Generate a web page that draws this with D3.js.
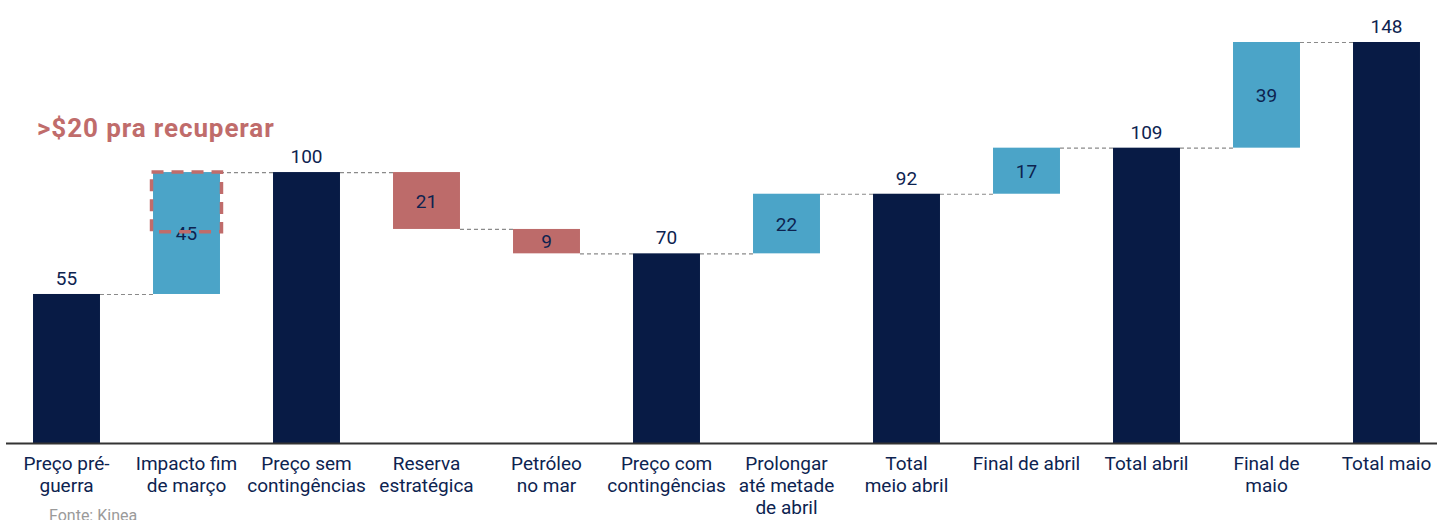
<!DOCTYPE html>
<html>
<head>
<meta charset="utf-8">
<script src="https://cdn.jsdelivr.net/npm/d3@7"></script>
<style>
  body { margin: 0; background: #fff; }
  svg { display: block; font-family: Roboto, "Open Sans", sans-serif; }
</style>
</head>
<body>
<div class="viz"></div>
<script>
// Categories (line breaks as in the original labels)
const categories = [
  "Preço pré-\nguerra",
  "Impacto fim\nde março",
  "Preço sem\ncontingências",
  "Reserva\nestratégica",
  "Petróleo\nno mar",
  "Preço com\ncontingências",
  "Prolongar\naté metade\nde abril",
  "Total\nmeio abril",
  "Final de abril",
  "Total abril",
  "Final de\nmaio",
  "Total maio",
];
const values = [55, 45, 100, -21, -9, 70, 22, 92, 17, 109, 39, 148];
const isTotal = [true, false, true, false, false, true, false, true, false, true, false, true];
// dashed highlight box on "Impacto fim de março": from 100 down to ~78
const highlightRange = [78, 100];

const colors = {
  total: "#081b45",
  up: "#4ba4c8",
  down: "#bd6b6a",
  text: "#0d2350",
  accent: "#c06c6b",
};

const totalWidth = 1437;
const totalHeight = 520;

const svg = d3
  .select(".viz")
  .append("svg")
  .attr("width", totalWidth)
  .attr("height", totalHeight);

// build waterfall steps
let running = 0;
const bars = values.map((v, i) => {
  let start, end;
  if (isTotal[i]) {
    start = 0;
    end = v;
  } else {
    start = running;
    end = running + v;
  }
  running = end;
  return { name: categories[i], value: v, total: isTotal[i], start, end };
});

// Scales
const x = d3
  .scaleBand()
  .domain(categories)
  .range([6.5, 1446.5])
  .paddingInner(0.442)
  .paddingOuter(0.221);

const y = d3.scaleLinear().domain([0, 148]).range([443, 42]);

// Connectors
svg
  .selectAll(".connector")
  .data(bars.slice(0, -1))
  .enter()
  .append("line")
  .attr("x1", (d) => x(d.name) + x.bandwidth())
  .attr("x2", (d, i) => x(categories[i + 1]))
  .attr("y1", (d) => y(d.end) + 0.5)
  .attr("y2", (d) => y(d.end) + 0.5)
  .attr("stroke", "#8a8a8a")
  .attr("stroke-width", 1.2)
  .attr("stroke-dasharray", "4,3");

// Bars
svg
  .selectAll(".bar")
  .data(bars)
  .enter()
  .append("rect")
  .attr("x", (d) => x(d.name))
  .attr("width", x.bandwidth())
  .attr("y", (d) => y(Math.max(d.start, d.end)))
  .attr("height", (d) => Math.abs(y(d.start) - y(d.end)))
  .attr("fill", (d) => (d.total ? colors.total : d.value > 0 ? colors.up : colors.down));

// Value labels
svg
  .selectAll(".value")
  .data(bars)
  .enter()
  .append("text")
  .attr("x", (d) => x(d.name) + x.bandwidth() / 2)
  .attr("y", (d) =>
    d.total ? y(d.end) - 9 : (y(d.start) + y(d.end)) / 2 + 7
  )
  .attr("text-anchor", "middle")
  .attr("fill", colors.text)
  .style("font-size", "19px")
  .text((d) => Math.abs(d.value));

// Highlight box
svg
  .append("rect")
  .attr("x", x(categories[1]) - 1.5)
  .attr("y", y(highlightRange[1]))
  .attr("width", x.bandwidth() + 3)
  .attr("height", y(highlightRange[0]) - y(highlightRange[1]))
  .attr("fill", "none")
  .attr("stroke", colors.accent)
  .attr("stroke-width", 3.5)
  .attr("stroke-dasharray", "12,8");

svg
  .append("text")
  .attr("x", 37)
  .attr("y", 137)
  .attr("fill", colors.accent)
  .style("font-size", "26px")
  .style("font-weight", "bold")
  .style("letter-spacing", "0.9px")
  .text(">$20 pra recuperar");

// X axis
const xAxis = svg
  .append("g")
  .attr("transform", `translate(0, ${y(0)})`)
  .call(d3.axisBottom(x).tickSize(0).tickFormat(""));

xAxis.select(".domain").remove();
svg
  .append("line")
  .attr("x1", 6)
  .attr("x2", totalWidth)
  .attr("y1", y(0) + 0.5)
  .attr("y2", y(0) + 0.5)
  .attr("stroke", "#333")
  .attr("stroke-width", 2);

xAxis.selectAll(".tick").each(function (d) {
  const t = d3
    .select(this)
    .append("text")
    .attr("fill", colors.text)
    .attr("text-anchor", "middle")
    .style("font-size", "19px")
    .style("font-family", "Roboto, sans-serif");
  d.split("\n").forEach((line, i) => {
    t.append("tspan")
      .attr("x", 0)
      .attr("y", 27 + i * 22)
      .text(line);
  });
});

// Source
svg
  .append("text")
  .attr("x", 49)
  .attr("y", 521)
  .attr("fill", "#9a9a9a")
  .style("font-size", "16px")
  .text("Fonte: Kinea");
</script>
</body>
</html>
